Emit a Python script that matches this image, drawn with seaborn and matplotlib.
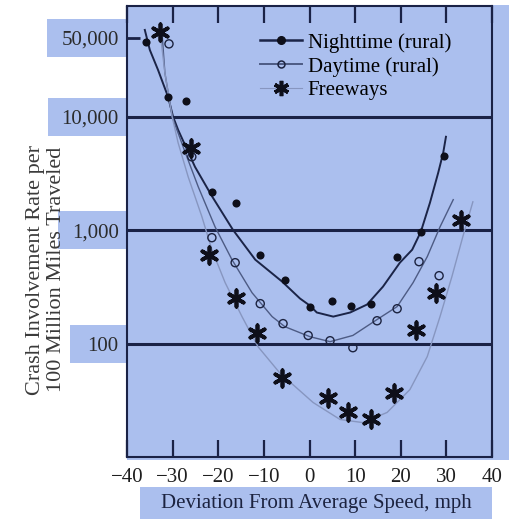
import matplotlib
matplotlib.use("Agg")
import matplotlib.pyplot as plt
from matplotlib.lines import Line2D
from matplotlib.patches import Rectangle
from matplotlib.ticker import NullLocator
import seaborn as sns

# measured points (deviation from average speed, mph / crashes per 100M miles)
night_x = [-35.8, -31.0, -27.1, -21.4, -16.1, -10.8, -5.4, 0.1, 4.9, 9.1, 13.5, 19.2, 24.4, 29.5]
night_y = [45700, 15000, 13800, 2180, 1750, 608, 366, 212, 239, 216, 225, 584, 970, 4530]

day_x = [-30.8, -25.8, -21.4, -16.3, -10.8, -5.8, -0.3, 4.5, 9.5, 14.8, 19.2, 24.0, 28.4]
day_y = [44000, 4440, 859, 517, 225, 150, 118, 106, 92, 159, 203, 528, 397]

fwy_x = [-32.8, -26.0, -22.0, -16.1, -11.5, -6.0, 4.1, 8.4, 13.5, 18.5, 23.3, 27.7, 33.2]
fwy_y = [56000, 5330, 608, 254, 125, 50, 33.4, 24.7, 21.8, 36.3, 133, 281, 1240]

# hand-fitted trend curves
night_curve_x = [-36.1, -35.0, -33.2, -31.0, -29.9, -28.8, -25.1, -21.4, -16.8, -11.9, -6.0, -2.1,
                 0.1, 1.6, 5.2, 8.9, 12.6, 16.1, 19.8, 22.5, 24.4, 26.4, 28.2, 29.3, 29.9]
night_curve_y = [58400, 38900, 25900, 15000, 10000, 7670, 3620, 2000, 1010, 550, 352, 250,
                 216, 188, 173, 188, 221, 318, 517, 673, 970, 1750, 3210, 4820, 6670]

day_curve_x = [-32.3, -31.7, -30.1, -27.3, -24.4, -20.7, -17.0, -12.6, -8.2, -5.4, 0.1, 4.5,
               9.5, 14.8, 19.2, 22.7, 25.8, 28.6, 31.5]
day_curve_y = [52800, 24400, 10000, 4920, 2420, 1070, 550, 281, 173, 141, 115, 104,
               118, 163, 212, 345, 584, 1070, 1860]

fwy_curve_x = [-32.8, -31.7, -30.1, -28.8, -26.6, -23.6, -21.4, -18.5, -14.8, -11.3, -6.5, 0.8,
               6.7, 11.7, 17.0, 22.0, 25.8, 28.6, 31.2, 33.6, 35.8]
fwy_curve_y = [58400, 24400, 10000, 5900, 2960, 1320, 673, 345, 173, 94, 55, 30.2,
               21.4, 20.1, 24.7, 39.3, 76.8, 173, 389, 877, 1780]

ytick_vals = [100, 1000, 10000, 50000]
ytick_labels = ["100", "1,000", "10,000", "50,000"]
grid_levels = [100, 1000, 10000]
xtick_vals = [-40, -30, -20, -10, 0, 10, 20, 30, 40]
series_labels = ["Nighttime (rural)", "Daytime (rural)", "Freeways"]

plt.rcParams['font.family'] = ['Liberation Serif', 'DejaVu Serif']

BG = '#abbfee'
INK = '#1a2246'
DOT = '#0e0f1a'

fig = plt.figure(figsize=(5.21, 5.19), dpi=100)
fig.patch.set_facecolor('white')
ax = fig.add_axes([0.2438, 0.1195, 0.7006, 0.8690])
ax.set_facecolor(BG)

# light blue panels behind the plot and the axis labels
fig.add_artist(Rectangle((0.2438, 0.1137), 0.733, 0.8767, transform=fig.transFigure,
                         facecolor=BG, edgecolor='none', zorder=-1))
fig.add_artist(Rectangle((0.2687, 0.0), 0.6756, 0.0617, transform=fig.transFigure,
                         facecolor=BG, edgecolor='none', zorder=-1))

ax.set_yscale('log')
ax.set_xlim(-40, 40)
ax.set_ylim(10, 95000)

for v in grid_levels:
    ax.axhline(v, color=INK, lw=2.2, zorder=1.8)

sns.lineplot(x=night_curve_x, y=night_curve_y, ax=ax, color='#1b2447', lw=1.4, errorbar=None, zorder=2)
sns.lineplot(x=day_curve_x, y=day_curve_y, ax=ax, color='#4d5b84', lw=1.0, errorbar=None, zorder=2)
sns.lineplot(x=fwy_curve_x, y=fwy_curve_y, ax=ax, color='#8796c0', lw=1.0, errorbar=None, zorder=2)

sns.scatterplot(x=night_x, y=night_y, ax=ax, color=DOT, s=34, linewidth=0, zorder=4)
sns.scatterplot(x=day_x, y=day_y, ax=ax, facecolor='none', edgecolor='#1c2340', s=34,
                linewidth=1.0, zorder=4)
sns.scatterplot(x=fwy_x, y=fwy_y, ax=ax, marker=(6, 2, 0), color=DOT, s=140,
                linewidth=2.7, zorder=4)

# ticks
ax.set_yticks(ytick_vals, ytick_labels)
ax.yaxis.set_minor_locator(NullLocator())
ax.set_xticks(xtick_vals)
ax.tick_params(axis='y', direction='in', length=9, width=2, color=INK,
               labelsize=15, labelcolor='#2b2b2b', pad=6)
ax.tick_params(axis='x', direction='in', length=12, width=1.6, color=INK, top=True,
               labelsize=15, labelcolor='#1e1e1e', pad=8)

# boxes behind the y tick labels
box_f = 1.47
for v, left in zip(ytick_vals, [-0.156, -0.189, -0.216, -0.219]):
    ax.add_patch(Rectangle((left, v / box_f), -left, v * box_f - v / box_f,
                           transform=ax.get_yaxis_transform(), clip_on=False,
                           facecolor=BG, edgecolor='none', zorder=0.2))

for s in ax.spines.values():
    s.set_color(INK)
    s.set_linewidth(1.5)

ax.set_ylabel("Crash Involvement Rate per\n100 Million Miles Traveled", fontsize=16,
              color='#3a3a3a', va='center', linespacing=1.15)
ax.yaxis.set_label_coords(-0.222, 0.415)
ax.set_xlabel("Deviation From Average Speed, mph", fontsize=15, color='#1c2340', va='center')
ax.xaxis.set_label_coords(0.518, -0.104)

handles = [
    Line2D([], [], color='#1b2447', lw=1.8, marker='o', ms=5.5, mfc=DOT, mec=DOT),
    Line2D([], [], color='#4d5b84', lw=1.4, marker='o', ms=5, mfc='none', mec='#1c2340', mew=1.1),
    Line2D([], [], color='#8796c0', lw=0.8, marker=(6, 2, 0), ms=11, mec=DOT, mew=2.6),
]
ax.legend(handles, series_labels, loc='upper left', bbox_to_anchor=(0.364, 0.94),
          frameon=False, fontsize=15, handlelength=2.0, handletextpad=0.3,
          labelspacing=0.2, borderpad=0, borderaxespad=0)

fig.savefig('out.png', dpi=100)
